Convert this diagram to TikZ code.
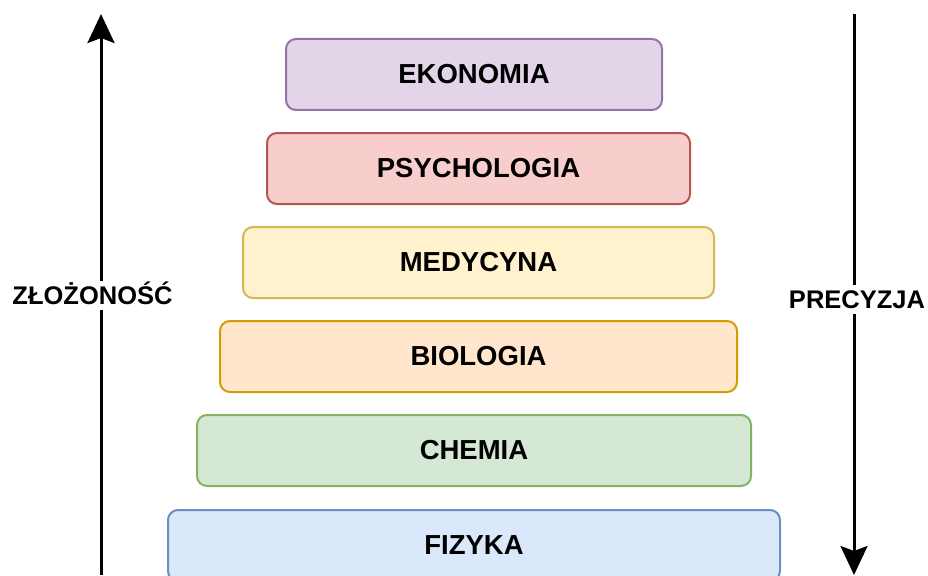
\documentclass[tikz,border=0pt]{standalone}
\usepackage{fontspec}
\setmainfont{Liberation Sans}
\usetikzlibrary{arrows.meta}

\definecolor{fillEko}{HTML}{E1D5E7}  \definecolor{drawEko}{HTML}{9673A6}
\definecolor{fillPsy}{HTML}{F8CECC}  \definecolor{drawPsy}{HTML}{B85450}
\definecolor{fillMed}{HTML}{FFF2CC}  \definecolor{drawMed}{HTML}{D6B656}
\definecolor{fillBio}{HTML}{FFE6CC}  \definecolor{drawBio}{HTML}{D79B00}
\definecolor{fillChe}{HTML}{D5E8D4}  \definecolor{drawChe}{HTML}{82B366}
\definecolor{fillFiz}{HTML}{DAE8FC}  \definecolor{drawFiz}{HTML}{6C8EBF}

\begin{document}
\begin{tikzpicture}[
  x=1pt, y=-1pt,
  level box/.style ={rounded corners=10pt, line width=2pt, inner sep=0pt,
                     font=\fontsize{27.5}{30}\selectfont\bfseries},
  axis arrow/.style={line width=3pt, -{Stealth[length=29pt, width=27pt, inset=5pt]}},
  axis label/.style={fill=white, inner sep=5pt, text height=19pt, text depth=0pt,
                     font=\fontsize{25.5}{28}\selectfont\bfseries},
]
%%%%%%%%%%%%%%%%%%%%%%%%%%%%%%%%%%%%%%%%%%%%%%%%%%%%%%%%%%%%%%%%%%%%%%%%%%%%%%%%%%%%%%%%%
%
%   FRAME
%
%%%%%%%%%%%%%%%%%%%%%%%%%%%%%%%%%%%%%%%%%%%%%%%%%%%%%%%%%%%%%%%%%%%%%%%%%%%%%%%%%%%%%%%%
\useasboundingbox (0,0) rectangle (928,575);
\clip (0,0) rectangle (928,575);

%%%%%%%%%%%%%%%%%%%%%%%%%%%%%%%%%%%%%%%%%%%%%%%%%%%%%%%%%%%%%%%%%%%%%%%%%%%%%%%%%%%%%%%%%
%
%   LEVELS
%
%%%%%%%%%%%%%%%%%%%%%%%%%%%%%%%%%%%%%%%%%%%%%%%%%%%%%%%%%%%%%%%%%%%%%%%%%%%%%%%%%%%%%%%%%
\foreach \lvl/\txt/\xa/\xb/\ya/\yb in {
    Eko/EKONOMIA/286/662/39/110,
    Psy/PSYCHOLOGIA/267/690/133/204,
    Med/MEDYCYNA/243/714/227/298,
    Bio/BIOLOGIA/220/737/321/392,
    Che/CHEMIA/197/751/415/486,
    Fiz/FIZYKA/168/780/510/581}
{
  \pgfmathsetmacro\boxW{\xb-\xa}
  \pgfmathsetmacro\boxH{\yb-\ya}
  \node[level box, fill=fill\lvl, draw=draw\lvl,
        minimum width=\boxW pt, minimum height=\boxH pt]
    (level\lvl) at ({(\xa+\xb)/2},{(\ya+\yb)/2}) {\txt};
}

%%%%%%%%%%%%%%%%%%%%%%%%%%%%%%%%%%%%%%%%%%%%%%%%%%%%%%%%%%%%%%%%%%%%%%%%%%%%%%%%%%%%%%%%%
%
%   AXES
%
%%%%%%%%%%%%%%%%%%%%%%%%%%%%%%%%%%%%%%%%%%%%%%%%%%%%%%%%%%%%%%%%%%%%%%%%%%%%%%%%%%%%%%%%
\coordinate (upStart)   at (101,575);
\coordinate (upEnd)     at (101,14);
\coordinate (downStart) at (854,14);
\coordinate (downEnd)   at (854,575);

\draw[axis arrow] (upStart) -- (upEnd);
\draw[axis arrow] (downStart) -- (downEnd);

%% labels on top of the arrows
\node[axis label] (complexity) at (92.5,295) {ZŁOŻONOŚĆ};
\node[axis label] (precision)  at (857,299)  {PRECYZJA};

\end{tikzpicture}
\end{document}
